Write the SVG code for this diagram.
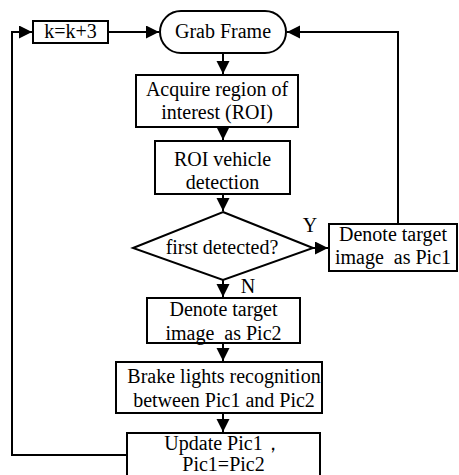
<svg xmlns="http://www.w3.org/2000/svg" width="459" height="475" viewBox="0 0 459 475">
<defs>
<style>
.box{fill:#fff;stroke:#000;stroke-width:2}
.t{font-family:"Liberation Serif","Times New Roman",serif;font-size:20px;fill:#000;text-anchor:middle;white-space:pre}
.c{fill:none;stroke:#000;stroke-width:2}
</style>
<marker id="ah" markerUnits="userSpaceOnUse" markerWidth="14" markerHeight="14" refX="13" refY="6.5" orient="auto">
<path d="M0,0 L13,6.5 L0,13 Z" fill="#000"/>
</marker>
</defs>
<rect width="459" height="475" fill="#fff"/>
<g id="connectors">
<path class="c" d="M108,32 H159" marker-end="url(#ah)"/>
<path class="c" d="M223,53 V74" marker-end="url(#ah)"/>
<path class="c" d="M223,127 V140" marker-end="url(#ah)"/>
<path class="c" d="M223,194 V211" marker-end="url(#ah)"/>
<path class="c" d="M313,248 H328" marker-end="url(#ah)"/>
<path class="c" d="M398,224 V32 H287" marker-end="url(#ah)"/>
<path class="c" d="M223,280 V297" marker-end="url(#ah)"/>
<path class="c" d="M223,343 V361" marker-end="url(#ah)"/>
<path class="c" d="M223,413 V432" marker-end="url(#ah)"/>
<path class="c" d="M127,455 H12 V32 H32" marker-end="url(#ah)"/>
</g>
<g id="k">
<rect class="box" x="33" y="21" width="75" height="22"/>
<text class="t" x="70.5" y="38">k=k+3</text>
</g>
<g id="grab">
<rect class="box" x="160" y="11" width="126" height="42" rx="21"/>
<text class="t" x="223" y="38">Grab Frame</text>
</g>
<g id="acquire">
<rect class="box" x="136" y="75" width="162" height="52"/>
<text class="t" x="217" y="96">Acquire region of</text>
<text class="t" x="217" y="119">interest (ROI)</text>
</g>
<g id="roi">
<rect class="box" x="155" y="141" width="135" height="53"/>
<text class="t" x="222.5" y="166">ROI vehicle</text>
<text class="t" x="222.5" y="189">detection</text>
</g>
<g id="decision">
<polygon class="box" points="223,212 313,248 223,280 133,248"/>
<text class="t" x="222" y="254">first detected?</text>
<text class="t" x="310" y="232">Y</text>
<text class="t" x="248" y="293">N</text>
</g>
<g id="pic1">
<rect class="box" x="329" y="224" width="128" height="47"/>
<text class="t" x="393" y="241">Denote target</text>
<text class="t" x="393" y="264">image  as Pic1</text>
</g>
<g id="pic2">
<rect class="box" x="147" y="298" width="153" height="45"/>
<text class="t" x="223.5" y="316">Denote target</text>
<text class="t" x="223.5" y="340">image  as Pic2</text>
</g>
<g id="brake">
<rect class="box" x="116" y="362" width="206" height="51"/>
<text class="t" x="224" y="383">Brake lights recognition</text>
<text class="t" x="224" y="407">between Pic1 and Pic2</text>
</g>
<g id="update">
<rect class="box" x="127" y="433" width="193" height="50"/>
<text class="t" x="223.5" y="450">Update Pic1，</text>
<text class="t" x="223.5" y="471">Pic1=Pic2</text>
</g>
</svg>
